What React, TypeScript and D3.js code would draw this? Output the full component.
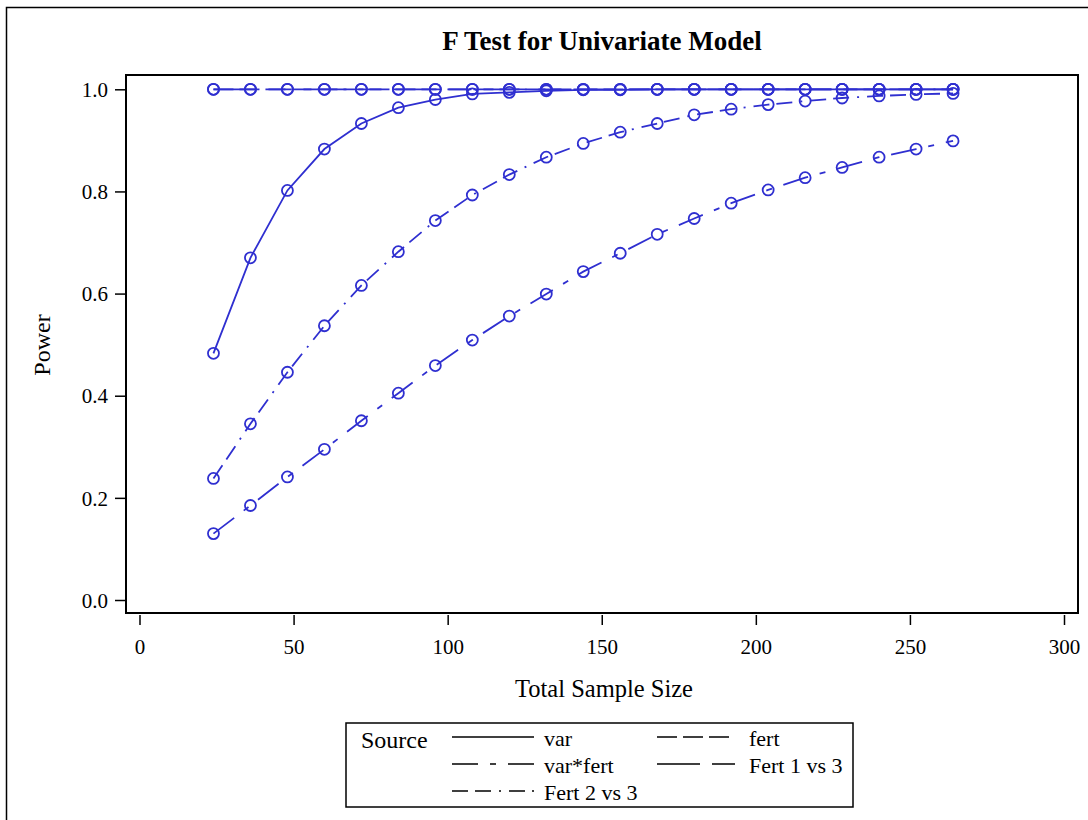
import React, { useEffect, useRef } from "react";
import * as d3 from "d3";

// total sample size (x) and power for each source
const sampleSize = [24, 36, 48, 60, 72, 84, 96, 108, 120, 132, 144, 156, 168, 180, 192, 204, 216, 228, 240, 252, 264];
const powerVar = [0.483, 0.67, 0.802, 0.883, 0.933, 0.964, 0.98, 0.991, 0.994, 0.997, 0.999, 0.999, 1, 1, 1, 1, 1, 1, 1, 1, 1];
const powerFert = [1, 1, 1, 1, 1, 1, 1, 1, 1, 1, 1, 1, 1, 1, 1, 1, 1, 1, 1, 1, 1];
const powerVarFert = [0.13, 0.185, 0.241, 0.295, 0.351, 0.405, 0.459, 0.509, 0.556, 0.599, 0.643, 0.679, 0.716, 0.747, 0.777, 0.803, 0.827, 0.847, 0.867, 0.883, 0.899];
const powerFert13 = [1, 1, 1, 1, 1, 1, 1, 1, 1, 1, 1, 1, 1, 1, 1, 1, 1, 1, 1, 1, 1];
const powerFert23 = [0.238, 0.345, 0.446, 0.537, 0.616, 0.682, 0.743, 0.793, 0.833, 0.867, 0.894, 0.916, 0.933, 0.95, 0.961, 0.97, 0.977, 0.983, 0.987, 0.99, 0.992];

const sourceNames = ["var", "fert", "var*fert", "Fert 1 vs 3", "Fert 2 vs 3"];
const xTicks = [0, 50, 100, 150, 200, 250, 300];
const yTicks = [0, 0.2, 0.4, 0.6, 0.8, 1.0];

const BLUE = "#2f2fd0";
const FONT = "'Liberation Serif', 'Times New Roman', serif";

export default function App() {
  const ref = useRef<SVGSVGElement>(null);

  useEffect(() => {
    const svg = d3.select(ref.current);
    svg.selectAll("*").remove();

    const values = [powerVar, powerFert, powerVarFert, powerFert13, powerFert23];
    const dashes = ["none", "20 6", "26 12 6 12", "43 12 23 12", "16 7 16 8 2 8"];

    const frame = { left: 126, right: 1078, top: 75, bottom: 613 };
    const x = d3.scaleLinear().domain([0, 300]).range([139.5, 1064]);
    const y = d3.scaleLinear().domain([0, 1]).range([600, 89.3]);

    // outer border
    svg.append("rect")
      .attr("x", 6.5).attr("y", 7.5).attr("width", 1100).attr("height", 830)
      .attr("fill", "none").attr("stroke", "#000").attr("stroke-width", 1.5);

    svg.append("text")
      .attr("x", 602).attr("y", 50)
      .attr("text-anchor", "middle")
      .attr("font-family", FONT).attr("font-weight", "bold").attr("font-size", 27)
      .text("F Test for Univariate Model");

    // axes
    const xAxis = svg.append("g")
      .attr("transform", `translate(0, ${frame.bottom + 2})`)
      .call(d3.axisBottom(x).tickValues(xTicks).tickSize(10).tickSizeOuter(0).tickFormat(d3.format("d")));
    xAxis.select(".domain").remove();
    xAxis.selectAll("line").attr("stroke-width", 1.5);
    xAxis.selectAll("text")
      .attr("y", 39).attr("dy", 0)
      .attr("font-family", FONT).attr("font-size", 21).attr("fill", "#000");

    const yAxis = svg.append("g")
      .attr("transform", `translate(${frame.left}, 0)`)
      .call(d3.axisLeft(y).tickValues(yTicks).tickSize(11).tickSizeOuter(0).tickFormat(d3.format(".1f")));
    yAxis.select(".domain").remove();
    yAxis.selectAll("line").attr("stroke-width", 1.5);
    yAxis.selectAll("text")
      .attr("x", -18).attr("dy", "0.34em")
      .attr("font-family", FONT).attr("font-size", 21).attr("fill", "#000");

    svg.append("text")
      .attr("transform", "translate(50, 345) rotate(-90)")
      .attr("text-anchor", "middle")
      .attr("font-family", FONT).attr("font-size", 24)
      .text("Power");

    svg.append("text")
      .attr("x", 604).attr("y", 697)
      .attr("text-anchor", "middle")
      .attr("font-family", FONT).attr("font-size", 24.5)
      .text("Total Sample Size");

    // series
    const line = d3.line<number>()
      .x((d, i) => x(sampleSize[i]))
      .y((d) => y(d));

    const plot = svg.append("g");
    values.forEach((vals, s) => {
      plot.append("path")
        .attr("d", line(vals))
        .attr("fill", "none")
        .attr("stroke", BLUE)
        .attr("stroke-width", 1.8)
        .attr("stroke-dasharray", dashes[s]);
    });
    values.forEach((vals) => {
      plot.selectAll(null)
        .data(vals)
        .enter()
        .append("circle")
        .attr("cx", (d, i) => x(sampleSize[i]))
        .attr("cy", (d) => y(d))
        .attr("r", 5.5)
        .attr("fill", "none")
        .attr("stroke", BLUE)
        .attr("stroke-width", 1.8);
    });

    // plot frame
    svg.append("rect")
      .attr("x", frame.left).attr("y", frame.top)
      .attr("width", frame.right - frame.left).attr("height", frame.bottom - frame.top)
      .attr("fill", "none").attr("stroke", "#000").attr("stroke-width", 2);

    // legend
    const lg = svg.append("g");
    lg.append("rect")
      .attr("x", 346).attr("y", 723).attr("width", 507).attr("height", 84)
      .attr("fill", "none").attr("stroke", "#000").attr("stroke-width", 1.5);
    lg.append("text")
      .attr("x", 361).attr("y", 748)
      .attr("font-family", FONT).attr("font-size", 24)
      .text("Source");

    const slots = [
      { lx: 452, lw: 82, tx: 544, row: 0 },
      { lx: 657, lw: 72, tx: 749, row: 0 },
      { lx: 452, lw: 82, tx: 544, row: 1 },
      { lx: 657, lw: 78, tx: 749, row: 1 },
      { lx: 452, lw: 82, tx: 544, row: 2 },
    ];
    sourceNames.forEach((name, s) => {
      const slot = slots[s];
      const ly = 737 + slot.row * 27;
      lg.append("line")
        .attr("x1", slot.lx).attr("x2", slot.lx + slot.lw)
        .attr("y1", ly).attr("y2", ly)
        .attr("stroke", "#000").attr("stroke-width", 1.5)
        .attr("stroke-dasharray", dashes[s]);
      lg.append("text")
        .attr("x", slot.tx).attr("y", ly + 9)
        .attr("font-family", FONT).attr("font-size", 22)
        .text(name);
    });
  }, []);

  return (
    <svg
      ref={ref}
      width={1088}
      height={820}
      style={{ position: "absolute", left: 0, top: 0, background: "#fff" }}
    />
  );
}
